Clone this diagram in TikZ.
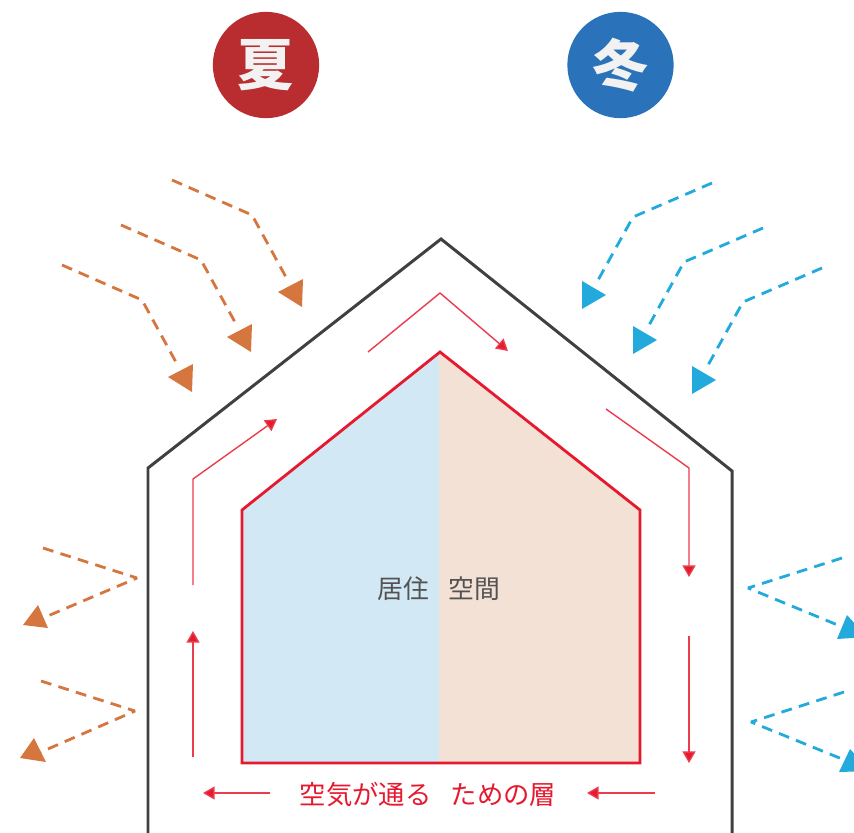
\documentclass[tikz,border=0pt]{standalone}
\usepackage{fontspec}
\setmainfont{Noto Sans CJK JP}
\usetikzlibrary{arrows.meta}
\definecolor{wallgray}{HTML}{404040}
\definecolor{airred}{HTML}{E6192E}
\definecolor{sunorange}{HTML}{D5763F}
\definecolor{coldblue}{HTML}{22AADD}
\definecolor{roomblue}{HTML}{D2E9F5}
\definecolor{roompeach}{HTML}{F4E1D5}
\tikzset{
  wall/.style={draw=wallgray,line width=1.7pt,line join=miter},
  room/.style={draw=airred,line width=1.6pt,line join=miter},
  air/.style={draw=airred!85!white,line width=.8pt,-{Triangle[length=6.6pt,width=7.4pt,fill=airred]}},
  heat/.style={draw=sunorange,line width=1.6pt,line join=bevel,dash pattern=on 6.2pt off 4.2pt},
  cold/.style={draw=coldblue,line width=1.6pt,line join=bevel,dash pattern=on 6.2pt off 4.2pt},
  season/.style={circle,minimum size=60.5pt,inner sep=0pt,text=white!95!black,font=\fontsize{32pt}{32pt}\selectfont\bfseries},
  roomtext/.style={text=wallgray!90!white,inner sep=0pt,font=\fontsize{14.7pt}{16pt}\selectfont},
}
\begin{document}
\begin{tikzpicture}[x=.02cm,y=-.02cm]
  \clip (0,0) rectangle (854,832);
  % season marks
  \node[season,fill={rgb,255:red,185;green,44;blue,47}] (summer) at (266,65) {夏};
  \node[season,fill={rgb,255:red,42;green,115;blue,186}] (winter) at (620.5,65) {冬};
  % rooms
  \fill[roomblue] (242,510) -- (439,352) -- (439,763) -- (242,763) -- cycle;
  \fill[roompeach] (439,352) -- (640,510) -- (640,763) -- (439,763) -- cycle;
  \draw[room] (242,510) -- (440,352) -- (640,510) -- (640,763) -- (242,763) -- cycle;
  % outer house
  \coordinate (wallL) at (148,840);
  \coordinate (eaveL) at (148,468);
  \coordinate (ridge) at (441,239);
  \coordinate (eaveR) at (732,471);
  \coordinate (wallR) at (732,840);
  \draw[wall] (wallL) -- (eaveL) -- (ridge) -- (eaveR) -- (wallR);
  % incoming from above
  \foreach \dx/\dy in {0/0,59/-40,110/-85}{
    \begin{scope}[shift={(\dx,\dy)}]
      \coordinate (a) at (62,265);
      \coordinate (b) at (142,300);
      \coordinate (c) at (177,364);
      \draw[heat] (a) -- (b) -- (c);
      \fill[sunorange] (168,377) -- (193,364) -- (192,392) -- cycle;
    \end{scope}
  }
  \foreach \dx/\dy in {0/0,-59/-40,-110/-85}{
    \begin{scope}[shift={(\dx,\dy)}]
      \coordinate (a) at (822,268);
      \coordinate (b) at (743,302);
      \coordinate (c) at (707,367);
      \draw[cold] (a) -- (b) -- (c);
      \fill[coldblue] (716,380) -- (692,366) -- (692,394) -- cycle;
    \end{scope}
  }
  % bouncing off the walls
  \coordinate (h1a) at (43,548);
  \coordinate (h1b) at (137,578);
  \coordinate (h1c) at (43,618);
  \coordinate (h2a) at (41,681);
  \coordinate (h2b) at (135,711);
  \coordinate (h2c) at (41,752);
  \draw[heat] (h1a) -- (h1b) -- (h1c);
  \draw[heat] (h2a) -- (h2b) -- (h2c);
  \fill[sunorange] (38,605) -- (23,625) -- (48,628) -- cycle;
  \fill[sunorange] (34,738) -- (20,758) -- (46,762) -- cycle;
  \coordinate (c1a) at (842,558);
  \coordinate (c1b) at (748,588);
  \coordinate (c1c) at (845,628);
  \coordinate (c2a) at (844,692);
  \coordinate (c2b) at (751,722);
  \coordinate (c2c) at (847,761);
  \draw[cold] (c1a) -- (c1b) -- (c1c);
  \draw[cold] (c2a) -- (c2b) -- (c2c);
  \fill[coldblue] (847,615) -- (837,639) -- (867,637) -- cycle;
  \fill[coldblue] (850,749) -- (839,772) -- (870,771) -- cycle;
  % air layer
  \coordinate (t1) at (368,352);
  \coordinate (t2) at (440,293);
  \coordinate (t3) at (508,351);
  \coordinate (l1) at (193,585);
  \coordinate (l2) at (193,479);
  \coordinate (l3) at (277,419);
  \coordinate (u1) at (193,757);
  \coordinate (u2) at (193,631);
  \coordinate (r1) at (606,409);
  \coordinate (r2) at (689,468);
  \coordinate (r3) at (689,577);
  \coordinate (d1) at (689,636);
  \coordinate (d2) at (689,763);
  \coordinate (b1) at (270,793);
  \coordinate (b2) at (203,793);
  \coordinate (b3) at (655,793);
  \coordinate (b4) at (587,793);
  \draw[air] (t1) -- (t2) -- (t3);
  \draw[air] (l1) -- (l2) -- (l3);
  \draw[air] (u1) -- (u2);
  \draw[air] (r1) -- (r2) -- (r3);
  \draw[air] (d1) -- (d2);
  \draw[air] (b1) -- (b2);
  \draw[air] (b3) -- (b4);
  % labels
  \node[roomtext] (living) at (403,589) {居住};
  \node[roomtext] (space) at (474,589) {空間};
  \node[roomtext,text=airred,font=\fontsize{15pt}{16pt}\selectfont] (layer) at (428,794) {空気が通る\hspace{11pt}ための層};
\end{tikzpicture}
\end{document}
